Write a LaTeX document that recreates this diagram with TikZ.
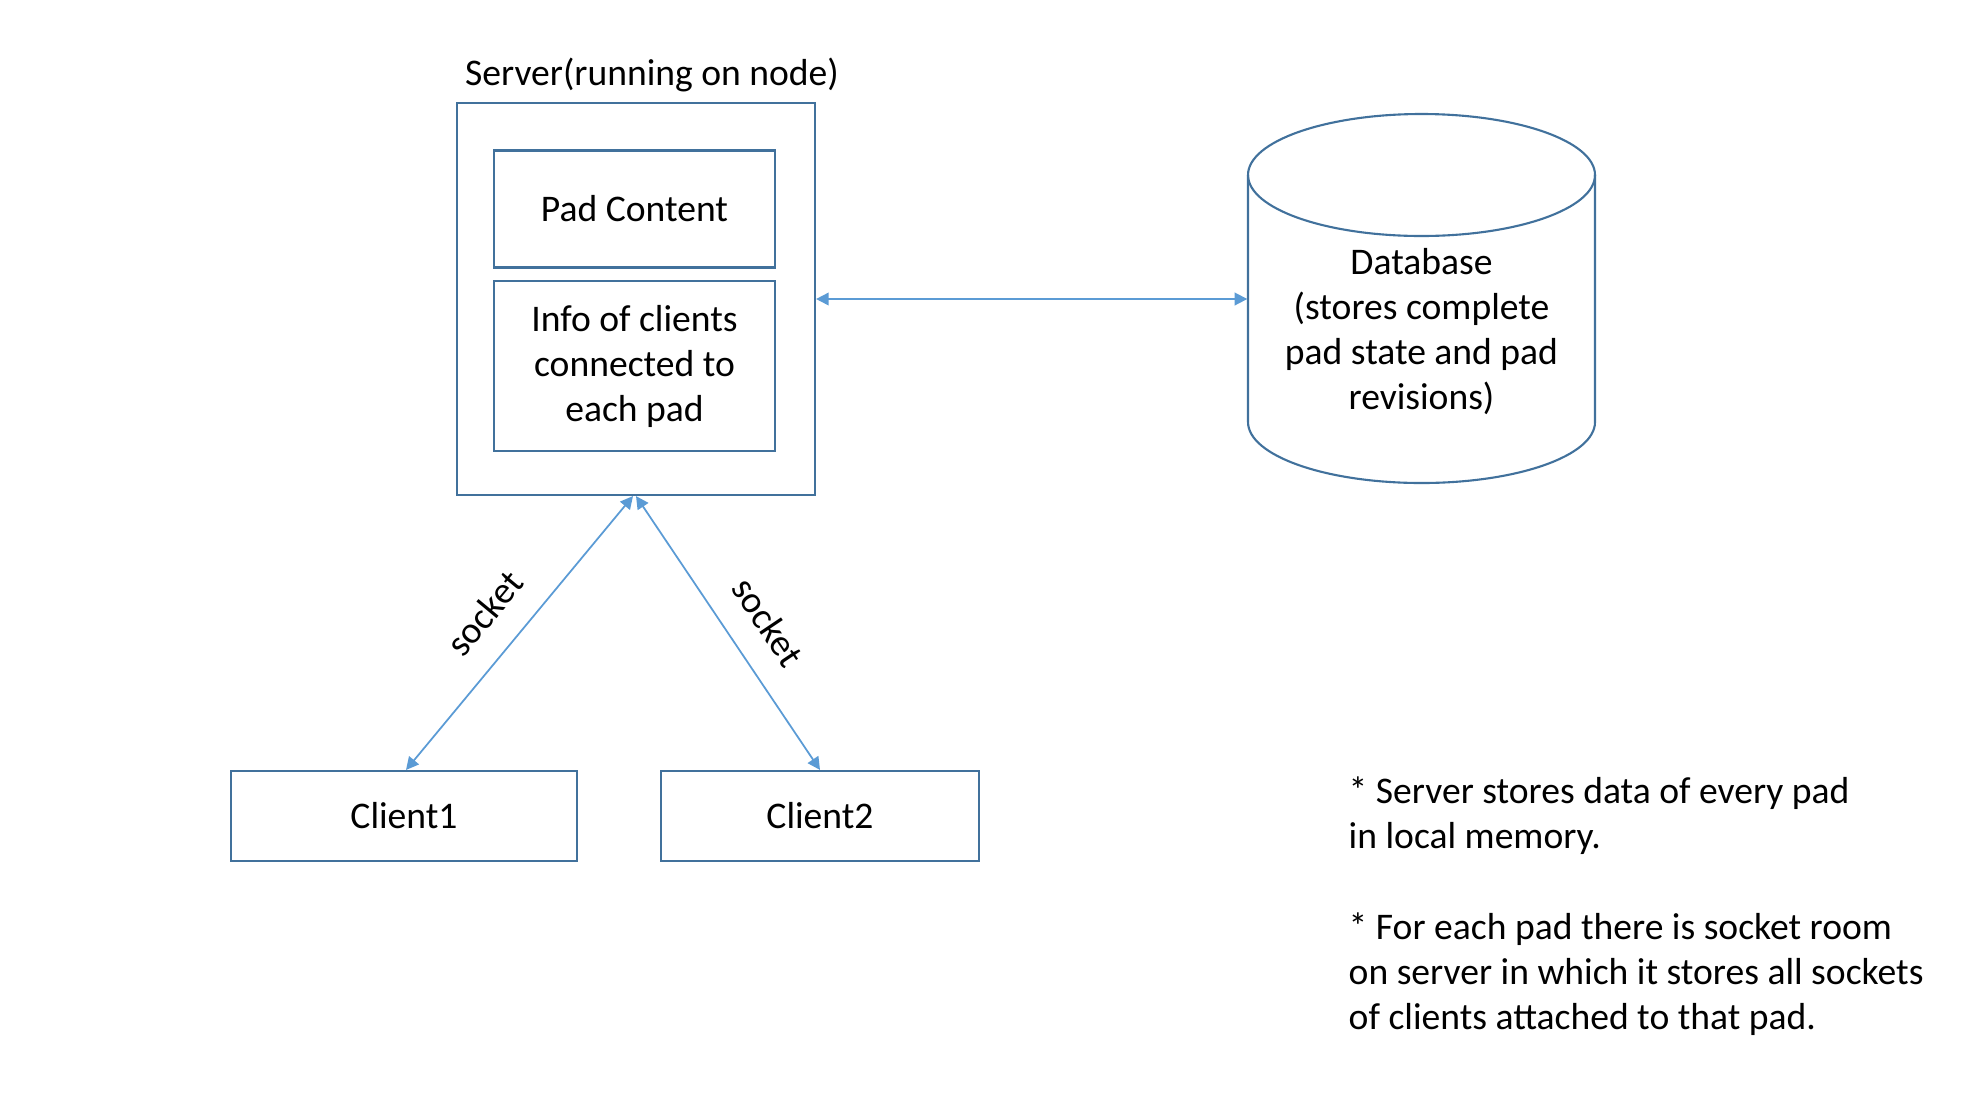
\documentclass[tikz,border=0pt]{standalone}
\usepackage{fontspec}
\setmainfont{Carlito}
\usepackage{tikz}
\usetikzlibrary{positioning}
\usetikzlibrary{arrows.meta}
\usepackage{xcolor}
\definecolor{boxblue}{HTML}{41719C}
\definecolor{linkblue}{HTML}{5B9BD5}

\begin{document}
\begin{tikzpicture}[y=-1cm,
    font=\fontsize{10.7}{12.8}\selectfont,
    box/.style={draw=boxblue, line width=0.6pt, align=center, inner sep=0pt},
    link/.style={draw=linkblue, line width=0.5pt,
      {Triangle[length=3.6pt,width=3.6pt]}-{Triangle[length=3.6pt,width=3.6pt]}},
    lbl/.style={sloped, above=0.14cm},
    note/.style={anchor=base west, align=left, inner sep=0pt}]
    \useasboundingbox (0,0) rectangle (19.84,11.08);
    % server and what it holds
    \node[box, minimum width=3.58cm, minimum height=3.92cm] (server) at (6.36,2.99) {};
    \node[anchor=base] (serverlbl) at (6.52,0.85) {Server(running on node)};
    \node[box, minimum width=2.81cm, minimum height=1.17cm] (pad) at (6.345,2.09) {Pad Content};
    \node[box, minimum width=2.81cm, minimum height=1.70cm] (info) at (6.345,3.66)
      {Info of clients\\connected to\\each pad};
    % database
    \draw[boxblue, line width=0.6pt] (12.48,1.75) -- (12.48,4.22)
      arc[start angle=180, end angle=0, x radius=1.735, y radius=0.61] -- (15.95,1.75);
    \draw[boxblue, line width=0.6pt] (14.215,1.75) ellipse [x radius=1.735, y radius=0.61];
    \node[minimum width=3.47cm, align=center, inner sep=0pt] (db) at (14.215,3.32)
      {Database\\(stores complete\\pad state and pad\\revisions)};
    % clients
    \node[box, minimum width=3.46cm, minimum height=0.90cm] (client1) at (4.04,8.16) {Client1};
    \node[box, minimum width=3.18cm, minimum height=0.90cm] (client2) at (8.20,8.16) {Client2};
    % links
    \draw[link] (server.east) -- (server.east -| db.west);
    \draw[link] ([xshift=-0.03cm]server.south) -- node[lbl, pos=0.52] {socket} ([xshift=0.02cm]client1.north);
    \draw[link] (server.south) -- node[lbl, pos=0.54] {socket} (client2.north);
    % notes
    \node[note] (note1) at (13.48,8.48) {* Server stores data of every pad\\in local memory.};
    \node[note] (note2) at (13.48,10.29)
      {* For each pad there is socket room\\on server in which it stores all sockets\\of clients attached to that pad.};
\end{tikzpicture}
\end{document}
